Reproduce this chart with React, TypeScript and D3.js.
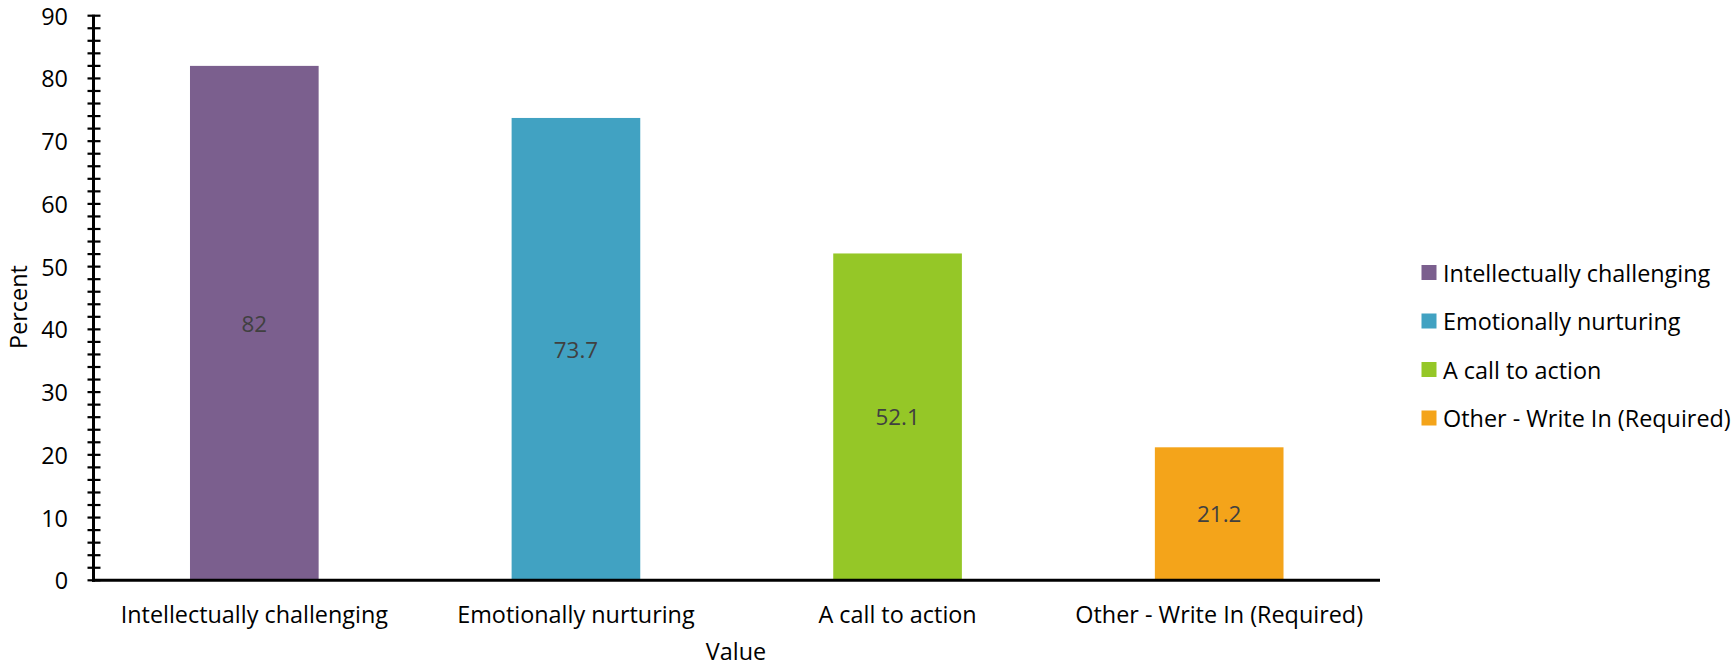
import React from "react";
import * as d3 from "d3";

const categories = [
  "Intellectually challenging",
  "Emotionally nurturing",
  "A call to action",
  "Other - Write In (Required)",
];
const values = [82, 73.7, 52.1, 21.2];
const colors = ["#7B5F8E", "#41A2C2", "#95C727", "#F4A41A"];
const yTicks = [0, 10, 20, 30, 40, 50, 60, 70, 80, 90];
const minorTicks = d3.range(0, 91, 2);

const W = 1735;
const H = 666;
const FONT = "'Open Sans', sans-serif";
const FS = 23.4;

export default function App() {
  const left = 93.5;
  const right = 1380;
  const top = 15.7;
  const bottom = 580.3;

  const x = d3
    .scaleBand<string>()
    .domain(categories)
    .range([left, right])
    .paddingInner(0.6)
    .paddingOuter(0.3);
  const y = d3.scaleLinear().domain([0, 90]).range([bottom, top]);

  return (
    <svg
      width={W}
      height={H}
      style={{ position: "absolute", left: 0, top: 0, background: "#fff" }}
      fontFamily={FONT}
    >
      {categories.map((c, i) => (
        <rect
          key={c}
          x={x(c)}
          y={y(values[i])}
          width={x.bandwidth()}
          height={y(0) - y(values[i])}
          fill={colors[i]}
        />
      ))}
      {categories.map((c, i) => (
        <text
          key={"v" + c}
          x={(x(c) as number) + x.bandwidth() / 2}
          y={(y(values[i]) + y(0)) / 2}
          textAnchor="middle"
          dominantBaseline="central"
          fontSize={FS - 1}
          fill="#404040"
        >
          {values[i]}
        </text>
      ))}
      {minorTicks.map((t) => (
        <line
          key={"m" + t}
          x1={left - 6}
          x2={left + 7}
          y1={y(t)}
          y2={y(t)}
          stroke="#000"
          strokeWidth={2.2}
        />
      ))}
      <line x1={left} x2={left} y1={top - 1} y2={bottom + 1.5} stroke="#000" strokeWidth={3} />
      <line x1={left - 1.5} x2={right} y1={bottom} y2={bottom} stroke="#000" strokeWidth={3} />
      {yTicks.map((t) => (
        <text
          key={"t" + t}
          x={68}
          y={y(t)}
          textAnchor="end"
          dominantBaseline="central"
          fontSize={FS}
          fill="#000"
        >
          {t}
        </text>
      ))}
      {categories.map((c) => (
        <text
          key={"c" + c}
          x={(x(c) as number) + x.bandwidth() / 2}
          y={614}
          textAnchor="middle"
          dominantBaseline="central"
          fontSize={FS}
          fill="#000"
        >
          {c}
        </text>
      ))}
      <text
        x={736}
        y={651}
        textAnchor="middle"
        dominantBaseline="central"
        fontSize={FS}
        fill="#000"
      >
        Value
      </text>
      <text
        transform={`translate(18,307) rotate(-90)`}
        textAnchor="middle"
        dominantBaseline="central"
        fontSize={FS}
        fill="#000"
      >
        Percent
      </text>
      {categories.map((c, i) => (
        <g key={"l" + c} transform={`translate(1421.5, ${272.5 + i * 48.5})`}>
          <rect x={0} y={-7.5} width={15} height={15} fill={colors[i]} />
          <text x={21.5} y={0} dominantBaseline="central" fontSize={FS} fill="#000">
            {c}
          </text>
        </g>
      ))}
    </svg>
  );
}
